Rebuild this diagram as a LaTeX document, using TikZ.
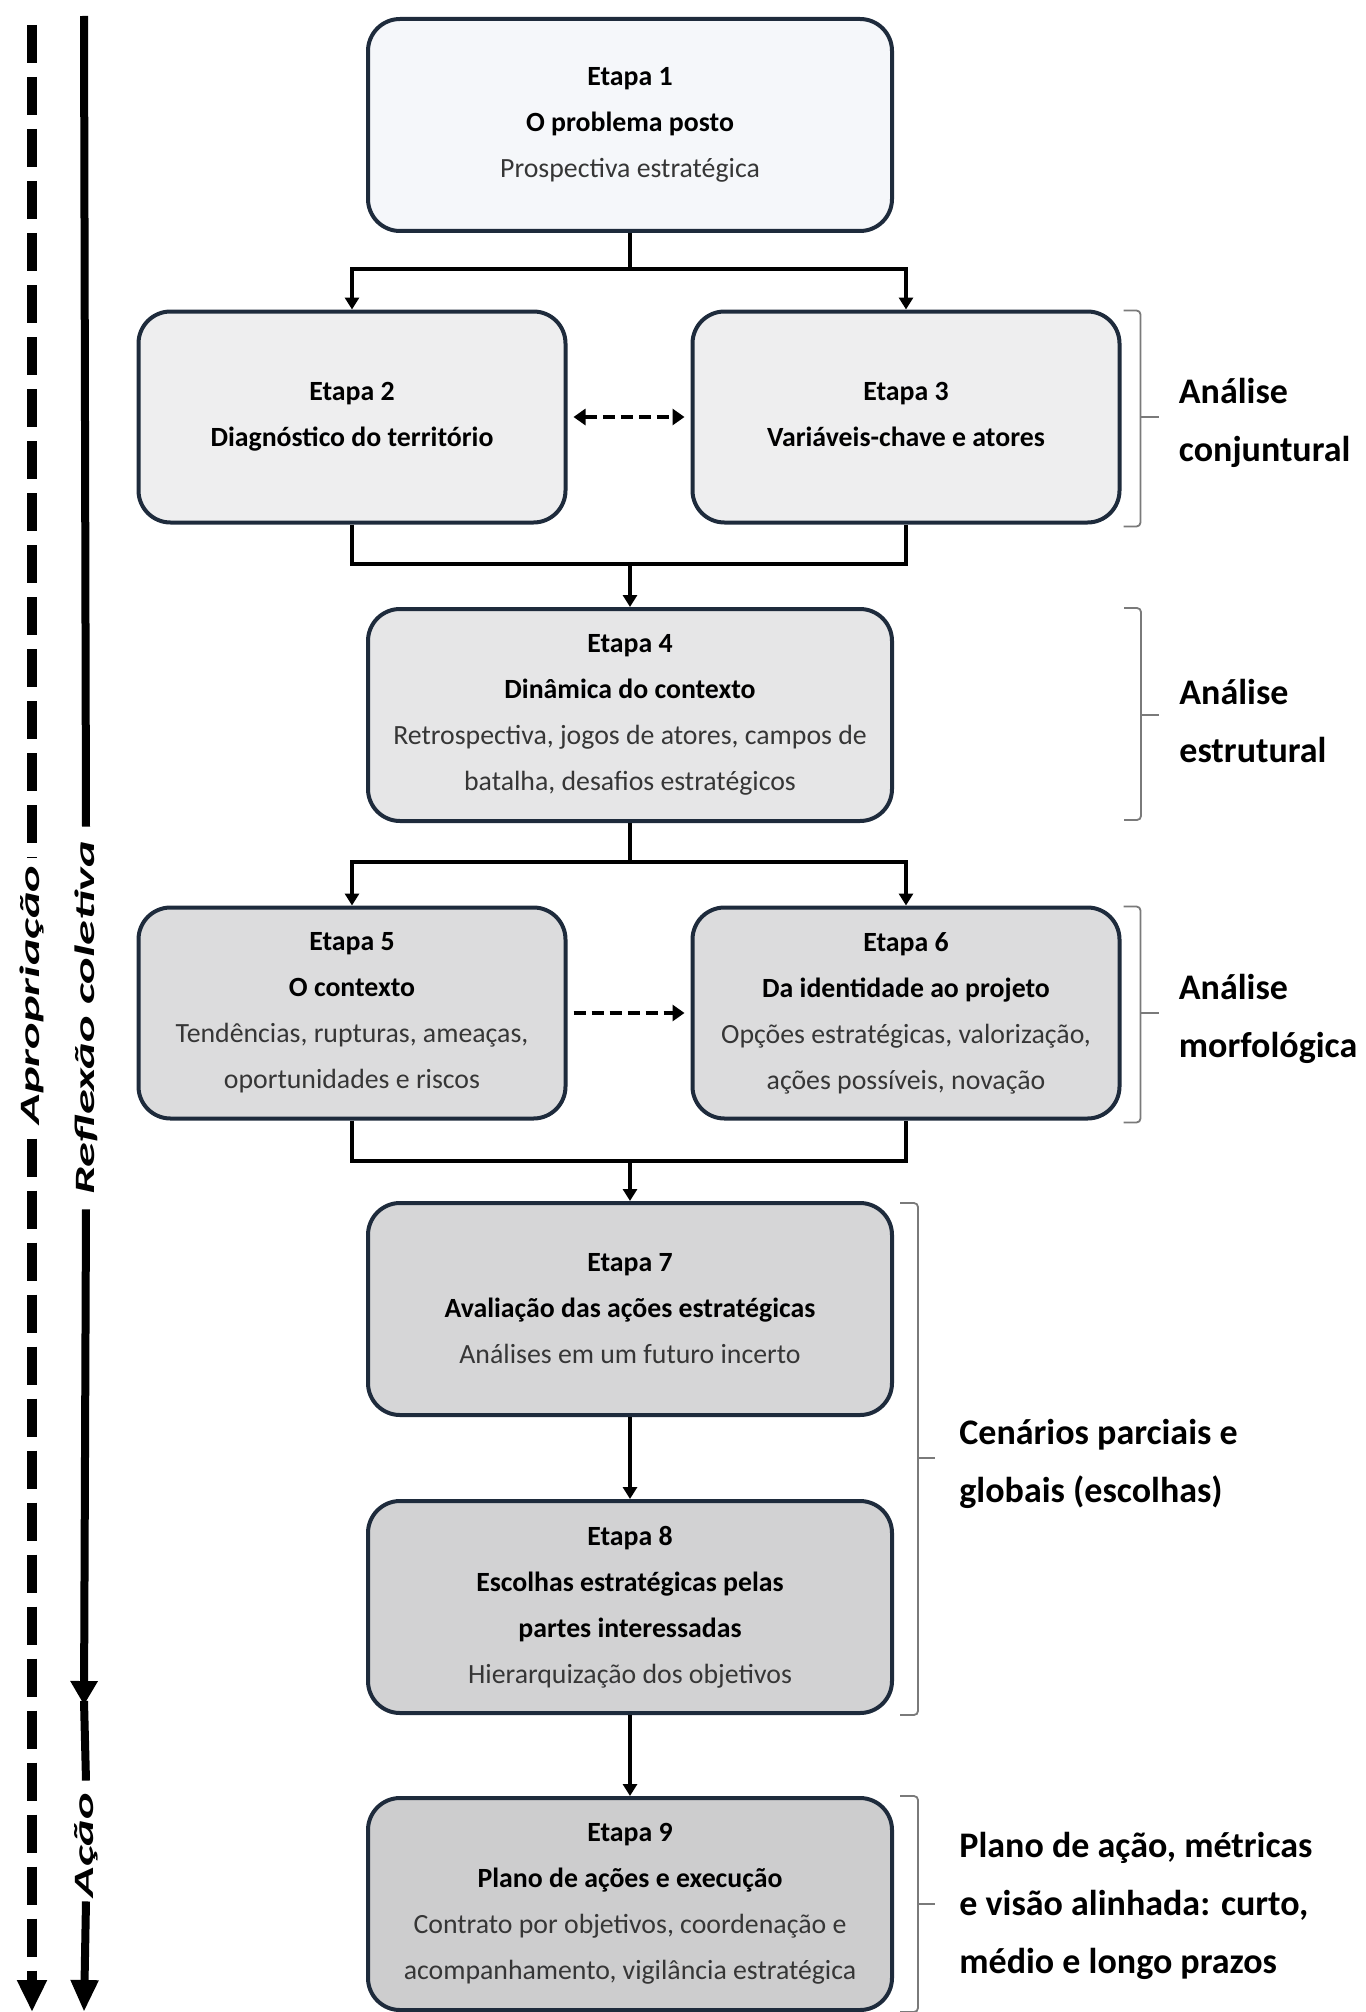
\documentclass[tikz,border=0pt]{standalone}
\usepackage{fontspec}
\setmainfont{Carlito}
\usepackage{graphicx}
\usetikzlibrary{arrows.meta,calc}
\definecolor{bordc}{HTML}{1E2B3C}
\definecolor{subgray}{HTML}{363636}
\definecolor{fA}{HTML}{F5F7FA}
\definecolor{fB}{HTML}{EEEEEF}
\definecolor{fC}{HTML}{E6E6E7}
\definecolor{fD}{HTML}{DCDCDD}
\definecolor{fE}{HTML}{D6D6D7}
\definecolor{fF}{HTML}{D2D2D3}
\definecolor{fG}{HTML}{CDCDCE}
\definecolor{brkc}{HTML}{7A7A7A}
\newcommand{\subtxt}[1]{{\color{subgray}\mdseries #1}}
\newcommand{\vlab}[1]{\scalebox{1.8}[1]{\bfseries\itshape #1}}
\begin{document}
\begin{tikzpicture}[x=0.5pt,y=-0.5pt,
  stage/.style={draw=bordc, line width=2pt, rounded corners=16pt, align=center,
    font=\fontsize{13.9}{23}\selectfont\bfseries, inner sep=0pt, text=black},
  wide/.style={minimum width=262pt, minimum height=106pt},
  narrow/.style={minimum width=213.5pt, minimum height=105.5pt},
  conn/.style={line width=1.8pt, black},
  tip/.style={-{Triangle[width=7pt,length=6pt]}},
  dconn/.style={line width=2.3pt, black, dash pattern=on 6pt off 3pt},
  brk/.style={line width=0.9pt, brkc, rounded corners=2pt},
  lbl/.style={anchor=west, align=left, font=\fontsize{18}{29}\selectfont\bfseries, inner sep=0pt},
  vtext/.style={rotate=90, font=\fontsize{14}{16}\selectfont, inner sep=0pt},
  dashln/.style={line width=4.8pt, black, dash pattern=on 19pt off 7pt},
  solidln/.style={line width=4pt, black},
]
\useasboundingbox (0,0) rectangle (1365,2012);

% stages
\node[stage, wide, fill=fA] (e1) at (630,125) {Etapa 1\\O problema posto\\\subtxt{Prospectiva estratégica}};
\node[stage, narrow, fill=fB] (e2) at (352,417) {Etapa 2\\Diagnóstico do território};
\node[stage, narrow, fill=fB] (e3) at (906,417) {Etapa 3\\Variáveis-chave e atores\vphantom{g}};
\node[stage, wide, fill=fC] (e4) at (630,715) {Etapa 4\\Dinâmica do contexto\\\subtxt{Retrospectiva, jogos de atores, campos de}\\\subtxt{batalha, desafios estratégicos}};
\node[stage, narrow, fill=fD] (e5) at (352,1013) {Etapa 5\\O contexto\\\subtxt{Tendências, rupturas, ameaças,}\\\subtxt{oportunidades e riscos}};
\node[stage, narrow, fill=fD] (e6) at (906,1013) {Etapa 6\\Da identidade ao projeto\\\subtxt{Opções estratégicas, valorização,}\\\subtxt{ações possíveis, novação}};
\node[stage, wide, fill=fE] (e7) at (630,1309) {Etapa 7\\Avaliação das ações estratégicas\\\subtxt{Análises em um futuro incerto}};
\node[stage, wide, fill=fF] (e8) at (630,1607) {Etapa 8\\Escolhas estratégicas pelas\\partes interessadas\\\subtxt{Hierarquização dos objetivos}};
\node[stage, wide, fill=fG] (e9) at (630,1904) {Etapa 9\\Plano de ações e execução\\\subtxt{Contrato por objetivos, coordenação e}\\\subtxt{acompanhamento, vigilância estratégica}};

% connectors
\coordinate (j1) at (630,269);
\coordinate (j2) at (630,564);
\coordinate (j3) at (630,862);
\coordinate (j4) at (630,1161);
\draw[conn] (e1.south) -- (j1);
\draw[conn, tip] (j1) -| (e2.north);
\draw[conn, tip] (j1) -| (e3.north);
\draw[conn] (e2.south) |- (j2) -| (e3.south);
\draw[conn, tip] (j2) -- (e4.north);
\draw[conn] (e4.south) -- (j3);
\draw[conn, tip] (j3) -| (e5.north);
\draw[conn, tip] (j3) -| (e6.north);
\draw[conn] (e5.south) |- (j4) -| (e6.south);
\draw[conn, tip] (j4) -- (e7.north);
\draw[conn, tip] (e7) -- (e8);
\draw[conn, tip] (e8) -- (e9);
\draw[dconn, {Triangle[width=8pt,length=6pt]}-{Triangle[width=8pt,length=6pt]}, shorten <=3pt, shorten >=3pt] (e2) -- (e3);
\draw[dconn, -{Triangle[width=8pt,length=6pt]}, shorten <=3pt, shorten >=3pt] (e5) -- (e6);

% right brackets
\draw[brk] ($(e3.north east)+(2,1)$) -- ($(e3.north east)+(19,1)$) -- ($(e3.south east)+(19,2)$) -- ($(e3.south east)+(2,2)$);
\draw[brk] ($(e3.east)+(19,0)$) -- ($(e3.east)+(37,0)$) coordinate (t1);
\draw[brk] ($(e4.north east)+(230,1)$) -- ($(e4.north east)+(247,1)$) -- ($(e4.south east)+(247,-3)$) -- ($(e4.south east)+(230,-3)$);
\draw[brk] ($(e4.east)+(247,0)$) -- ($(e4.east)+(265,0)$) coordinate (t2);
\draw[brk] ($(e6.north east)+(2,1)$) -- ($(e6.north east)+(19,1)$) -- ($(e6.south east)+(19,2)$) -- ($(e6.south east)+(2,2)$);
\draw[brk] ($(e6.east)+(19,0)$) -- ($(e6.east)+(37,0)$) coordinate (t3);
\draw[brk] ($(e7.north east)+(6,2)$) -- ($(e7.north east)+(24,2)$) -- ($(e8.south east)+(24,0)$) -- ($(e8.south east)+(6,0)$);
\coordinate (m78) at ($(e7.north east)!0.5!(e8.south east)$);
\draw[brk] ($(m78)+(24,0)$) -- ($(m78)+(41,0)$) coordinate (t4);
\draw[brk] ($(e9.north east)+(6,0)$) -- ($(e9.north east)+(24,0)$) -- ($(e9.south east)+(24,0)$) -- ($(e9.south east)+(6,0)$);
\draw[brk] ($(e9.east)+(24,0)$) -- ($(e9.east)+(41,0)$) coordinate (t5);

\node[lbl] (l1) at ($(t1)+(20,6)$) {Análise\\conjuntural};
\node[lbl] (l2) at ($(t2)+(20,6)$) {Análise\\estrutural};
\node[lbl] (l3) at ($(t3)+(20,6)$) {Análise\\morfológica};
\node[lbl] (l4) at ($(t4)+(24,6)$) {Cenários parciais e\\globais (escolhas)};
\node[lbl] (l5) at ($(t5)+(24,2)$) {Plano de ação, métricas\\e visão alinhada: curto,\\médio e longo prazos};

% left axes
\node[vtext] (ap) at (32,995) {\vlab{Apropriação}};
\node[vtext] (rc) at (86,1018) {\vlab{Reflexão coletiva}};
\node[vtext] (ac) at (86,1845) {\vlab{Ação}};
\coordinate (dtop) at (32,25);
\coordinate (dbot) at (32,2012);
\coordinate (stop) at (84,16);
\coordinate (smid) at (84,1705);
\coordinate (sbot) at (84,2012);
\draw[dashln] (dtop) -- ($(ap.east)+(0,-8)$);
\draw[dashln, -{Triangle[width=14pt,length=16pt]}] ($(ap.west)+(0,14)$) -- (dbot);
\draw[solidln] (stop) -- ($(rc.east)+(0,-14)$);
\draw[solidln, -{Triangle[width=13pt,length=12pt]}] ($(rc.west)+(0,14)$) -- (smid);
\draw[solidln] ($(smid)+(0,-4)$) -- ($(ac.east)+(0,-12)$);
\draw[solidln, -{Triangle[width=13pt,length=16pt]}] ($(ac.west)+(0,4)$) -- (sbot);
\end{tikzpicture}
\end{document}
